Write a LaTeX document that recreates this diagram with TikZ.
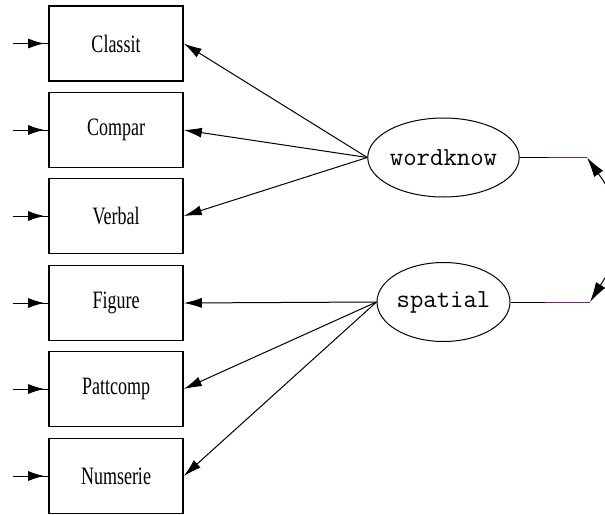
\documentclass[tikz,border=0pt]{standalone}
\usepackage{fontspec}
\usepackage{graphicx}
\setmainfont{Liberation Serif}
\usetikzlibrary{shapes.geometric,arrows.meta,calc}
\definecolor{covpurple}{RGB}{112,40,112}
\newcommand{\bxtext}[1]{\scalebox{0.72}[1]{\fontsize{25}{25}\selectfont #1}}
\tikzset{
  obs/.style={draw, line width=1.6pt, minimum width=134pt, minimum height=75pt, inner sep=0pt},
  lat/.style={draw, ellipse, line width=1pt, minimum width=133pt, minimum height=79pt, inner sep=0pt, font=\ttfamily\fontsize{26}{26}\selectfont},
  load/.style={line width=1pt, -{Latex[length=18pt,width=10pt]}},
  err/.style={line width=1pt, -{Latex[length=16pt,width=10pt]}, shorten >=4pt},
  cov/.style={line width=1pt, {Latex[length=20pt,width=11pt]}-{Latex[length=20pt,width=11pt]}}
}
\begin{document}
\begin{tikzpicture}[x=1pt,y=-1pt]
\useasboundingbox (0,0) rectangle (605,514);
\clip (0,0) rectangle (605,514);
\node[obs] (c1) at (116,43.5) {\bxtext{Classit}};
\node[obs] (c2) at (116,130) {\bxtext{Compar}};
\node[obs] (c3) at (116,216) {\bxtext{Verbal}};
\node[obs] (c4) at (116,303) {\bxtext{Figure}};
\node[obs] (c5) at (116,389) {\bxtext{Pattcomp}};
\node[obs] (c6) at (116,476) {\bxtext{Numserie}};
\node[lat] (w) at (443.5,157.5) {wordknow};
\node[lat] (s) at (443.5,302) {spatial};
\foreach \i in {1,...,6}{
  \coordinate (e\i) at ($(c\i.west)+(-35,0)$);
}
\foreach \i in {1,...,6}{
  \draw[line width=1pt] (e\i) -- (c\i.west);
  \draw[err] (e\i) -- (c\i.west);
}
\draw[load] (w.west) -- (c1.east);
\draw[load] (w.west) -- (c2.east);
\draw[load] (w.west) -- (c3.east);
\draw[load] (s.west) -- (c4.east);
\draw[load] (s.west) -- (c5.east);
\draw[load] (s.west) -- (c6.east);
\coordinate (p1) at (548,157.5);
\coordinate (q1) at (587,157.5);
\coordinate (p2) at (545,302);
\coordinate (q2) at (590,302);
\draw[line width=1pt] (w.east) -- (p1);
\draw[line width=1pt, covpurple] (p1) -- (q1);
\draw[line width=1pt] (s.east) -- (p2);
\draw[line width=1pt, covpurple] (p2) -- (q2);
\draw[cov] (q1) .. controls (627,214) and (630,238) .. (q2);
\end{tikzpicture}
\end{document}
